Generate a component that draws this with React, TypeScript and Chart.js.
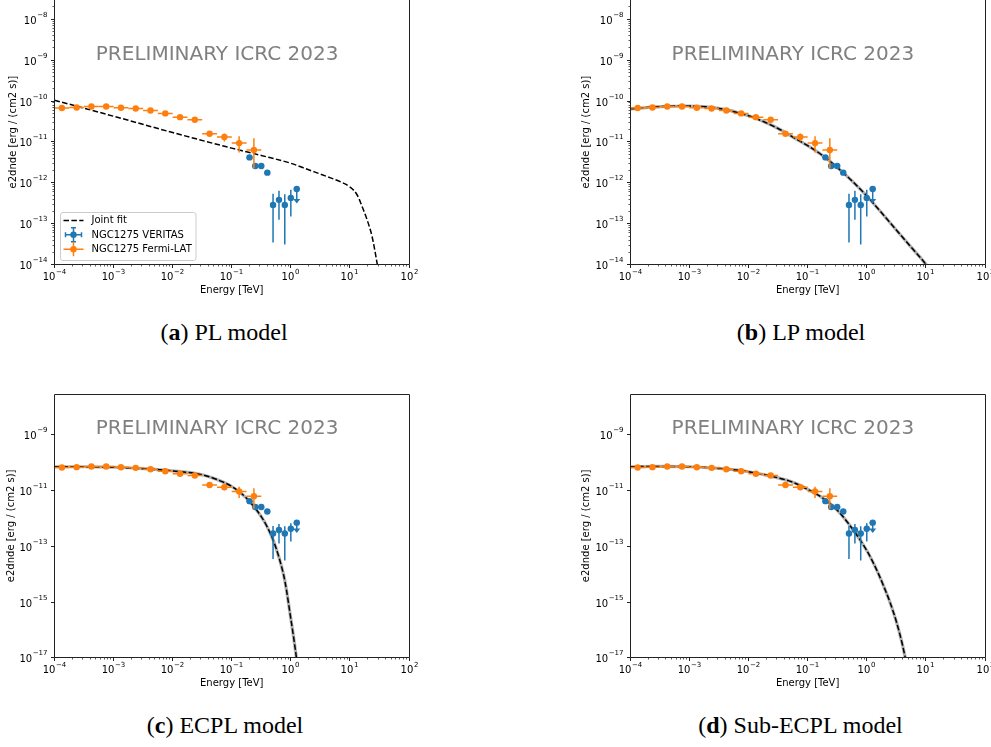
import { useEffect, useRef } from "react";
import { Chart, registerables } from "chart.js";

Chart.register(...registerables);

const FONT = '"DejaVu Sans", Verdana, sans-serif';
const BLUE = "#1f77b4";
const ORANGE = "#ff7f0e";

// ---------- Fermi-LAT flux points (TeV, erg cm-2 s-1) ----------
const fermiEnergy = [1.334e-4, 2.371e-4, 4.217e-4, 7.499e-4, 1.334e-3, 2.371e-3, 4.217e-3, 7.499e-3, 1.334e-2, 2.371e-2, 4.217e-2, 7.499e-2, 0.1334, 0.2371];
const fermiEnergyMin = [1.0e-4, 1.778e-4, 3.162e-4, 5.623e-4, 1.0e-3, 1.778e-3, 3.162e-3, 5.623e-3, 1.0e-2, 1.778e-2, 3.162e-2, 5.623e-2, 0.1, 0.1778];
const fermiEnergyMax = [1.778e-4, 3.162e-4, 5.623e-4, 1.0e-3, 1.778e-3, 3.162e-3, 5.623e-3, 1.0e-2, 1.778e-2, 3.162e-2, 5.623e-2, 0.1, 0.1778, 0.3162];
const fermiFlux = [6.8e-11, 7.0e-11, 7.4e-11, 7.4e-11, 6.9e-11, 6.6e-11, 5.9e-11, 5.0e-11, 4.05e-11, 3.5e-11, 1.6e-11, 1.33e-11, 9.4e-12, 6.35e-12];
const fermiFluxLow = [6.4e-11, 6.7e-11, 7.1e-11, 7.1e-11, 6.6e-11, 6.3e-11, 5.6e-11, 4.7e-11, 3.75e-11, 3.2e-11, 1.35e-11, 1.03e-11, 5.5e-12, 2.26e-12];
const fermiFluxHigh = [7.2e-11, 7.3e-11, 7.7e-11, 7.7e-11, 7.2e-11, 6.9e-11, 6.2e-11, 5.3e-11, 4.35e-11, 3.8e-11, 1.86e-11, 1.62e-11, 1.39e-11, 1.23e-11];

// ---------- VERITAS flux points ----------
const veritasEnergy = [0.2, 0.25, 0.316, 0.4, 0.5, 0.63, 0.79, 1.0, 1.26];
const veritasEnergyMin = [0.178, 0.224, 0.282, 0.355, 0.447, 0.562, 0.708, 0.891, 1.12];
const veritasEnergyMax = [0.224, 0.282, 0.355, 0.447, 0.562, 0.708, 0.891, 1.12, 1.41];
const veritasFlux = [4.2e-12, 2.6e-12, 2.6e-12, 1.78e-12, 2.9e-13, 3.85e-13, 2.9e-13, 4.3e-13, 7.1e-13];
const veritasFluxLow = [3.8e-12, 2.35e-12, 2.35e-12, 1.6e-12, 3.5e-14, 1.26e-13, 3.1e-14, 1.5e-13, 3.4e-13];
const veritasFluxHigh = [4.6e-12, 2.85e-12, 2.85e-12, 1.96e-12, 5.4e-13, 6.4e-13, 5.3e-13, 6.8e-13, 7.1e-13];
const veritasUpperLimit = [false, false, false, false, false, false, false, false, true];

// ---------- joint-fit model curves ----------
const plEnergy = [1e-4, 1e-3, 1e-2, 0.1, 0.316, 1, 2.0, 3.98, 7.08, 10, 13.2, 15.8, 19.5, 23.7, 28.8, 33.1];
const plFlux = [1.05e-10, 4.27e-11, 1.7e-11, 7.08e-12, 4.68e-12, 3.02e-12, 2.09e-12, 1.45e-12, 1.05e-12, 7.94e-13, 5.13e-13, 2.82e-13, 1.26e-13, 4.9e-14, 1.1e-14, 3.2e-15];

const lpEnergy = [1e-4, 3.16e-4, 1e-3, 3.16e-3, 1e-2, 1.78e-2, 3.16e-2, 5.62e-2, 0.1, 0.178, 0.316, 0.562, 1, 1.78, 3.16, 5.62, 10, 12.6];
const lpFlux = [6.46e-11, 7.33e-11, 7.59e-11, 6.61e-11, 4.37e-11, 3.16e-11, 2.14e-11, 1.32e-11, 8.13e-12, 4.68e-12, 2.4e-12, 1.12e-12, 4.79e-13, 1.86e-13, 7.08e-14, 2.69e-14, 1.02e-14, 6.3e-15];

const ecplEnergy = [1e-4, 3.16e-4, 1e-3, 3.16e-3, 1e-2, 3.16e-2, 5.62e-2, 0.1, 0.178, 0.316, 0.398, 0.501, 0.631, 0.794, 1.0, 1.12, 1.26, 1.41];
const ecplFlux = [7.24e-11, 7.24e-11, 6.92e-11, 6.17e-11, 5.13e-11, 3.72e-11, 2.51e-11, 1.41e-11, 5.37e-12, 1.17e-12, 5.01e-13, 1.7e-13, 3.98e-14, 5.62e-15, 2.51e-16, 5.01e-17, 7.94e-18, 1e-18];

const secplEnergy = [1e-4, 3.16e-4, 1e-3, 3.16e-3, 1e-2, 3.16e-2, 5.62e-2, 0.1, 0.178, 0.316, 0.562, 1.0, 1.259, 1.585, 1.995, 2.512, 3.162, 3.981, 5.012];
const secplFlux = [7.24e-11, 7.41e-11, 7.24e-11, 6.31e-11, 4.79e-11, 2.88e-11, 2.0e-11, 1.12e-11, 5.5e-12, 2.0e-12, 4.47e-13, 7.08e-14, 2.82e-14, 1.0e-14, 3.16e-15, 8.91e-16, 2.0e-16, 3.16e-17, 3.16e-18];

// ---------- axes ----------
const xTickExponents = [-4, -3, -2, -1, 0, 1, 2];
const yTickExponentsTop = [-14, -13, -12, -11, -10, -9, -8];
const yTickExponentsBottom = [-17, -15, -13, -11, -9];
const X_MIN = 1e-4;
const X_MAX = 1e2;

const captionLetters = ["a", "b", "c", "d"];
const captionTexts = ["PL model", "LP model", "ECPL model", "Sub-ECPL model"];
const legendLabels = ["Joint fit", "NGC1275 VERITAS", "NGC1275 Fermi-LAT"];
const watermarkText = "PRELIMINARY ICRC 2023";
const watermarkX = 5e-4;
const watermarkY = 1e-9;

type Pad = { left: number; top: number; right: number; bottom: number };
type PanelCfg = {
  left: number;
  top: number;
  width: number;
  height: number;
  pad: Pad;
  yMin: number;
  yMax: number;
  yTicks: number[];
  yMinor: boolean;
  fitE: number[];
  fitF: number[];
  band: boolean;
  legend: boolean;
  ylabelOffset: number;
};

function pts(e: number[], f: number[]) {
  return e.map((v, i) => ({ x: v, y: f[i] }));
}

function drawErrors(
  chart: any,
  E: number[],
  Emin: number[],
  Emax: number[],
  F: number[],
  Flo: number[],
  Fhi: number[],
  UL: boolean[] | null,
  color: string
) {
  const ctx = chart.ctx as CanvasRenderingContext2D;
  const xs = chart.scales.x;
  const ys = chart.scales.y;
  ctx.save();
  ctx.strokeStyle = color;
  ctx.fillStyle = color;
  ctx.lineWidth = 1.5;
  for (let i = 0; i < E.length; i++) {
    const px = xs.getPixelForValue(E[i]);
    const py = ys.getPixelForValue(F[i]);
    ctx.beginPath();
    ctx.moveTo(xs.getPixelForValue(Emin[i]), py);
    ctx.lineTo(xs.getPixelForValue(Emax[i]), py);
    ctx.moveTo(px, ys.getPixelForValue(Fhi[i]));
    ctx.lineTo(px, ys.getPixelForValue(Flo[i]));
    ctx.stroke();
    if (UL && UL[i]) {
      const yl = ys.getPixelForValue(Flo[i]);
      ctx.beginPath();
      ctx.moveTo(px - 3.5, yl - 3);
      ctx.lineTo(px + 3.5, yl - 3);
      ctx.lineTo(px, yl + 1.5);
      ctx.closePath();
      ctx.fill();
    }
  }
  ctx.restore();
}

function expStr(e: number) {
  return e < 0 ? "\u2212" + Math.abs(e) : String(e);
}

function drawPow(ctx: CanvasRenderingContext2D, e: number, x: number, baseline: number, align: "center" | "right") {
  const s = expStr(e);
  ctx.font = `10px ${FONT}`;
  const w1 = ctx.measureText("10").width;
  ctx.font = `7px ${FONT}`;
  const w2 = ctx.measureText(s).width;
  const total = w1 + w2 + 0.6;
  const x0 = align === "center" ? x - total / 2 : x - total;
  ctx.textAlign = "left";
  ctx.textBaseline = "alphabetic";
  ctx.font = `10px ${FONT}`;
  ctx.fillText("10", x0, baseline);
  ctx.font = `7px ${FONT}`;
  ctx.fillText(s, x0 + w1 + 0.6, baseline - 6.3);
}

function snap(v: number) {
  return Math.round(v - 0.5) + 0.5;
}

function makePlugin(cfg: PanelCfg) {
  return {
    id: "sedDecor",
    beforeDatasetDraw(chart: any, args: any) {
      if (args.index === 2)
        drawErrors(chart, veritasEnergy, veritasEnergyMin, veritasEnergyMax, veritasFlux, veritasFluxLow, veritasFluxHigh, veritasUpperLimit, BLUE);
      if (args.index === 3)
        drawErrors(chart, fermiEnergy, fermiEnergyMin, fermiEnergyMax, fermiFlux, fermiFluxLow, fermiFluxHigh, null, ORANGE);
    },
    afterDraw(chart: any) {
      const ctx = chart.ctx as CanvasRenderingContext2D;
      const ca = chart.chartArea;
      const xs = chart.scales.x;
      const ys = chart.scales.y;
      const L = snap(ca.left);
      const R = snap(ca.right);
      const T = snap(ca.top);
      const B = snap(ca.bottom);
      ctx.save();

      // watermark
      ctx.fillStyle = "#808080";
      ctx.font = `20px ${FONT}`;
      ctx.textAlign = "left";
      ctx.textBaseline = "alphabetic";
      ctx.fillText(watermarkText, xs.getPixelForValue(watermarkX), ys.getPixelForValue(watermarkY) - 0.5);

      // legend
      if (cfg.legend) {
        const bx = ca.left + 5;
        const by = ca.bottom - 5 - 48;
        const bw = 135.5;
        const bh = 48;
        ctx.fillStyle = "rgba(255,255,255,0.8)";
        ctx.strokeStyle = "#cccccc";
        ctx.lineWidth = 1;
        ctx.beginPath();
        ctx.roundRect(Math.round(bx) + 0.5, Math.round(by) + 0.5, bw, bh, 2.5);
        ctx.fill();
        ctx.stroke();
        const hx0 = bx + 4;
        const hx1 = hx0 + 20;
        const hc = (hx0 + hx1) / 2;
        const rows = [by + 8.7, by + 23, by + 37.5];
        // joint fit
        ctx.strokeStyle = "#000";
        ctx.lineWidth = 1.5;
        ctx.setLineDash([5.5, 2.4]);
        ctx.beginPath();
        ctx.moveTo(hx0, rows[0]);
        ctx.lineTo(hx1, rows[0]);
        ctx.stroke();
        ctx.setLineDash([]);
        // veritas
        ctx.strokeStyle = BLUE;
        ctx.fillStyle = BLUE;
        ctx.beginPath();
        ctx.moveTo(hx0 + 2, rows[1]);
        ctx.lineTo(hx1 - 2, rows[1]);
        ctx.moveTo(hc, rows[1] - 7);
        ctx.lineTo(hc, rows[1] + 7);
        ctx.moveTo(hx0 + 2, rows[1] - 2.5);
        ctx.lineTo(hx0 + 2, rows[1] + 2.5);
        ctx.moveTo(hx1 - 2, rows[1] - 2.5);
        ctx.lineTo(hx1 - 2, rows[1] + 2.5);
        ctx.moveTo(hc - 2.5, rows[1] - 7);
        ctx.lineTo(hc + 2.5, rows[1] - 7);
        ctx.moveTo(hc - 2.5, rows[1] + 7);
        ctx.lineTo(hc + 2.5, rows[1] + 7);
        ctx.stroke();
        ctx.beginPath();
        ctx.arc(hc, rows[1], 3.2, 0, Math.PI * 2);
        ctx.fill();
        // fermi
        ctx.strokeStyle = ORANGE;
        ctx.fillStyle = ORANGE;
        ctx.beginPath();
        ctx.moveTo(hx0, rows[2]);
        ctx.lineTo(hx1, rows[2]);
        ctx.moveTo(hc, rows[2] - 7);
        ctx.lineTo(hc, rows[2] + 7);
        ctx.stroke();
        ctx.beginPath();
        ctx.arc(hc, rows[2], 3.2, 0, Math.PI * 2);
        ctx.fill();
        // labels
        ctx.fillStyle = "#000";
        ctx.font = `10px ${FONT}`;
        ctx.textAlign = "left";
        ctx.textBaseline = "middle";
        legendLabels.forEach((t, i) => ctx.fillText(t, hx1 + 8, rows[i] + 0.5));
      }

      // frame
      ctx.strokeStyle = "#222";
      ctx.lineWidth = 1;
      ctx.beginPath();
      ctx.moveTo(L, T);
      ctx.lineTo(L, B);
      ctx.lineTo(R, B);
      ctx.lineTo(R, T);
      ctx.lineTo(L, T);
      ctx.stroke();

      // x ticks
      ctx.fillStyle = "#000";
      for (let d = -4; d < 2; d++) {
        for (let k = 2; k <= 9; k++) {
          const px = snap(xs.getPixelForValue(k * Math.pow(10, d)));
          ctx.lineWidth = 0.8;
          ctx.strokeStyle = "#333";
          ctx.beginPath();
          ctx.moveTo(px, B);
          ctx.lineTo(px, B + 2);
          ctx.stroke();
        }
      }
      xTickExponents.forEach((e) => {
        const px = snap(xs.getPixelForValue(Math.pow(10, e)));
        ctx.lineWidth = 1;
        ctx.strokeStyle = "#222";
        ctx.beginPath();
        ctx.moveTo(px, B);
        ctx.lineTo(px, B + 3.5);
        ctx.stroke();
        ctx.fillStyle = "#000";
        drawPow(ctx, e, px, B + 15.8, "center");
      });

      // y ticks
      if (cfg.yMinor) {
        for (let d = -15; d < -7; d++) {
          for (let k = 2; k <= 9; k++) {
            const v = k * Math.pow(10, d);
            if (v < cfg.yMin || v > cfg.yMax) continue;
            const py = snap(ys.getPixelForValue(v));
            ctx.lineWidth = 0.8;
            ctx.strokeStyle = "#333";
            ctx.beginPath();
            ctx.moveTo(L, py);
            ctx.lineTo(L - 2, py);
            ctx.stroke();
          }
        }
      }
      cfg.yTicks.forEach((e) => {
        const py = snap(ys.getPixelForValue(Math.pow(10, e)));
        ctx.lineWidth = 1;
        ctx.strokeStyle = "#222";
        ctx.beginPath();
        ctx.moveTo(L, py);
        ctx.lineTo(L - 3.5, py);
        ctx.stroke();
        ctx.fillStyle = "#000";
        drawPow(ctx, e, L - 7, py + 4.2, "right");
      });

      // axis titles
      ctx.fillStyle = "#000";
      ctx.font = `10px ${FONT}`;
      ctx.textAlign = "center";
      ctx.textBaseline = "alphabetic";
      ctx.fillText("Energy [TeV]", (ca.left + ca.right) / 2, ca.bottom + 28.5);
      ctx.save();
      ctx.translate(ca.left - cfg.ylabelOffset, (ca.top + ca.bottom) / 2);
      ctx.rotate(-Math.PI / 2);
      ctx.textBaseline = "middle";
      ctx.fillText("e2dnde [erg / (cm2 s)]", 0, 0);
      ctx.restore();

      ctx.restore();
    },
  };
}

function Panel({ cfg }: { cfg: PanelCfg }) {
  const ref = useRef<HTMLCanvasElement | null>(null);
  useEffect(() => {
    if (!ref.current) return;
    const chart = new Chart(ref.current, {
      type: "scatter",
      data: {
        datasets: [
          {
            type: "line",
            label: "band",
            data: pts(cfg.fitE, cfg.fitF),
            borderColor: "rgba(150,150,150,0.75)",
            borderWidth: 3.2,
            pointRadius: 0,
            cubicInterpolationMode: "monotone",
            hidden: !cfg.band,
            order: 4,
          } as any,
          {
            type: "line",
            label: legendLabels[0],
            data: pts(cfg.fitE, cfg.fitF),
            borderColor: "#000",
            borderWidth: 1.5,
            borderDash: [5.5, 2.4],
            pointRadius: 0,
            cubicInterpolationMode: "monotone",
            order: 3,
          } as any,
          {
            type: "scatter",
            label: legendLabels[1],
            data: pts(veritasEnergy, veritasFlux),
            backgroundColor: BLUE,
            borderColor: BLUE,
            borderWidth: 0,
            pointRadius: 3.2,
            order: 2,
          },
          {
            type: "scatter",
            label: legendLabels[2],
            data: pts(fermiEnergy, fermiFlux),
            backgroundColor: ORANGE,
            borderColor: ORANGE,
            borderWidth: 0,
            pointRadius: 3.2,
            order: 1,
          },
        ],
      },
      options: {
        animation: false,
        responsive: false,
        devicePixelRatio: 1,
        layout: { padding: cfg.pad },
        events: [],
        scales: {
          x: { type: "logarithmic", min: X_MIN, max: X_MAX, display: false },
          y: { type: "logarithmic", min: cfg.yMin, max: cfg.yMax, display: false },
        },
        plugins: {
          legend: { display: false },
          tooltip: { enabled: false },
          title: { display: false },
        },
      },
      plugins: [makePlugin(cfg)],
    } as any);
    return () => chart.destroy();
  }, [cfg]);
  return (
    <canvas
      ref={ref}
      width={cfg.width}
      height={cfg.height}
      style={{ position: "absolute", left: cfg.left, top: cfg.top, width: cfg.width, height: cfg.height }}
    />
  );
}

const panelA: PanelCfg = {
  left: 0, top: -20, width: 470, height: 330,
  pad: { left: 54.5, top: 19.5, right: 61, bottom: 45.3 },
  yMin: 1e-14, yMax: Math.pow(10, -7.516), yTicks: yTickExponentsTop, yMinor: true,
  fitE: plEnergy, fitF: plFlux, band: false, legend: true, ylabelOffset: 41.5,
};
const panelB: PanelCfg = {
  left: 570, top: -20, width: 421, height: 330,
  pad: { left: 60.3, top: 19.5, right: 6, bottom: 45.3 },
  yMin: 1e-14, yMax: Math.pow(10, -7.516), yTicks: yTickExponentsTop, yMinor: true,
  fitE: lpEnergy, fitF: lpFlux, band: true, legend: false, ylabelOffset: 43.6,
};
const panelC: PanelCfg = {
  left: 0, top: 360, width: 470, height: 350,
  pad: { left: 54.5, top: 34, right: 61, bottom: 52.3 },
  yMin: 1e-17, yMax: Math.pow(10, -7.528), yTicks: yTickExponentsBottom, yMinor: false,
  fitE: ecplEnergy, fitF: ecplFlux, band: true, legend: false, ylabelOffset: 42.8,
};
const panelD: PanelCfg = {
  left: 570, top: 360, width: 421, height: 350,
  pad: { left: 60.3, top: 34, right: 6, bottom: 52.3 },
  yMin: 1e-17, yMax: Math.pow(10, -7.528), yTicks: yTickExponentsBottom, yMinor: false,
  fitE: secplEnergy, fitF: secplFlux, band: true, legend: false, ylabelOffset: 43.6,
};

const captionCenters = [
  { x: 224, top: 319.6 },
  { x: 801, top: 319.6 },
  { x: 225, top: 712.6 },
  { x: 800.5, top: 712.6 },
];

export default function App() {
  return (
    <div
      style={{
        position: "absolute",
        left: 0,
        top: 0,
        width: 991,
        height: 747,
        overflow: "hidden",
        background: "#fff",
      }}
    >
      <Panel cfg={panelA} />
      <Panel cfg={panelB} />
      <Panel cfg={panelC} />
      <Panel cfg={panelD} />
      {captionCenters.map((c, i) => (
        <div
          key={i}
          style={{
            position: "absolute",
            left: c.x - 200,
            width: 400,
            top: c.top,
            textAlign: "center",
            fontFamily: '"Liberation Serif", "Times New Roman", serif',
            fontSize: 24,
            lineHeight: "24px",
            color: "#000",
            whiteSpace: "nowrap",
          }}
        >
          (<b>{captionLetters[i]}</b>) {captionTexts[i]}
        </div>
      ))}
    </div>
  );
}
